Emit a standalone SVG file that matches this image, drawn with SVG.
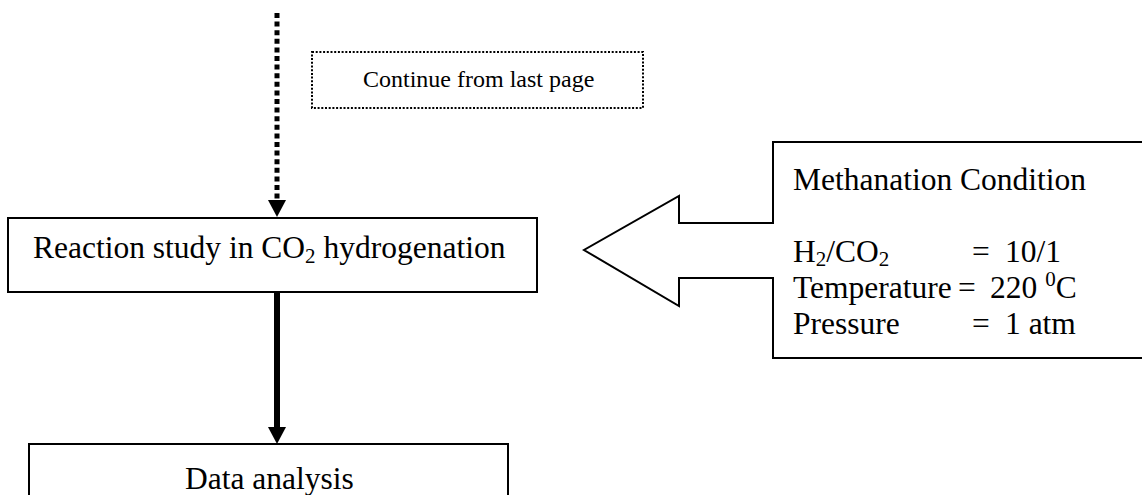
<svg xmlns="http://www.w3.org/2000/svg" width="1142" height="495" viewBox="0 0 1142 495">
<style>
text{font-family:"Liberation Serif","Times New Roman",serif;fill:#000}
.t{font-size:31.5px}
.box{fill:#fff;stroke:#000;stroke-width:2}
.sub{font-size:21px}
</style>
<rect width="1142" height="495" fill="#fff"/>
<g id="connectors">
<line x1="277" y1="13" x2="277" y2="200" stroke="#000" stroke-width="5" stroke-dasharray="5 3.6"/>
<path d="M268,200 L286,200 L277,217 Z" fill="#000"/>
<line x1="277" y1="292" x2="277" y2="428" stroke="#000" stroke-width="6"/>
<path d="M268,427 L286,427 L277,444 Z" fill="#000"/>
</g>
<g id="note">
<rect x="312" y="52" width="331" height="56" fill="none" stroke="#000" stroke-width="2" stroke-dasharray="2 1.7"/>
<text x="363" y="87" font-size="24">Continue from last page</text>
</g>
<g id="reaction">
<rect class="box" x="8" y="218" width="529" height="74"/>
<text class="t" x="33" y="258">Reaction study in CO<tspan class="sub" dy="5">2</tspan><tspan dy="-5"> hydrogenation</tspan></text>
</g>
<g id="data">
<rect class="box" x="29" y="444" width="479" height="60"/>
<text class="t" x="185" y="489">Data analysis</text>
</g>
<g id="condition">
<path d="M1150,142 L773,142 L773,223 L679,223 L679,196 L584,250 L679,306 L679,278 L773,278 L773,358 L1150,358" fill="#fff" stroke="#000" stroke-width="2" stroke-linejoin="miter"/>
<text class="t" x="793" y="190">Methanation Condition</text>
<text class="t" x="793" y="262">H<tspan class="sub" dy="4">2</tspan><tspan dy="-4">/CO</tspan><tspan class="sub" dy="4">2</tspan></text>
<text class="t" x="972" y="262">=</text>
<text class="t" x="1005" y="262">10/1</text>
<text class="t" x="793" y="298">Temperature</text>
<text class="t" x="958" y="298">=</text>
<text class="t" x="990" y="298">220 <tspan class="sub" dy="-12">0</tspan><tspan dy="12">C</tspan></text>
<text class="t" x="793" y="334">Pressure</text>
<text class="t" x="972" y="334">=</text>
<text class="t" x="1005" y="334">1 atm</text>
</g>
</svg>
